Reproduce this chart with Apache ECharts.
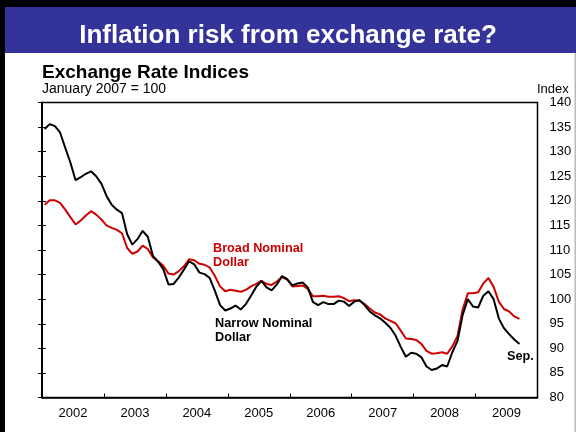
<!DOCTYPE html>
<html>
<head>
<meta charset="utf-8">
<script src="https://cdn.jsdelivr.net/npm/echarts@6/dist/echarts.min.js"></script>
<style>
  html, body { margin: 0; padding: 0; background: #fff; }
  #chart { width: 576px; height: 432px; }
</style>
</head>
<body>
<div id="chart"></div>
<script>
// monthly index values, Jan 2002 .. Sep 2009 (January 2007 = 100)
const years = ['2002', '2003', '2004', '2005', '2006', '2007', '2008', '2009']
const broadNominal = [
  119.2, 120.1, 120.1, 119.6, 118.2, 116.7, 115.2, 116.0, 117.0, 117.9, 117.2, 116.2,
  115.0, 114.5, 114.1, 113.4, 110.4, 109.2, 109.7, 110.9, 110.2, 108.5, 107.7, 106.8,
  105.2, 105.0, 105.7, 106.7, 108.1, 107.9, 107.2, 107.0, 106.4, 104.7, 102.6, 101.6,
  101.9, 101.7, 101.5, 101.9, 102.6, 103.1, 103.7, 103.1, 102.9, 103.6, 104.5, 104.0,
  102.6, 102.7, 102.8, 102.1, 100.6, 100.6, 100.7, 100.5, 100.5, 100.6, 100.2, 99.6,
  99.8, 99.7, 99.0, 98.1, 97.3, 96.9, 96.1, 95.6, 95.1, 93.6, 92.0, 91.9,
  91.7, 90.9, 89.5, 88.9, 89.0, 89.2, 88.9, 90.4, 92.5, 97.9, 101.2, 101.2,
  101.4, 103.2, 104.3, 102.5, 99.5, 98.0, 97.5, 96.5, 96.0
]
const narrowNominal = [
  134.6, 135.6, 135.2, 133.9, 130.8, 127.8, 124.2, 124.8, 125.5, 126.0, 125.0, 123.5,
  121.0, 119.2, 118.2, 117.5, 113.2, 111.1, 112.2, 113.9, 112.7, 108.8, 107.6, 106.1,
  103.0, 103.1, 104.4, 106.0, 107.7, 107.1, 105.4, 105.1, 104.3, 101.7, 98.8, 97.7,
  98.1, 98.7, 97.9, 99.0, 100.7, 102.5, 103.7, 102.4, 101.8, 103.0, 104.7, 104.1,
  102.8, 103.2, 103.4, 102.4, 99.4, 98.8, 99.4, 99.0, 99.0, 99.7, 99.5, 98.6,
  99.5, 99.8, 98.8, 97.5, 96.7, 96.1, 95.2, 94.2, 92.6, 90.3, 88.3, 89.1,
  88.9, 88.2, 86.3, 85.6, 85.9, 86.6, 86.3, 89.2, 91.5, 96.8, 100.0, 98.5,
  98.3, 100.7, 101.6, 100.0, 96.1, 94.1, 92.9, 91.8, 90.9
]
const yMin = 80
const yMax = 140
const yStep = 5

const red = '#cc0000'
const font = '"Liberation Sans", Arial, sans-serif'

// place each monthly value at the middle of its month
const toPoints = vals => vals.map((v, i) => [i + 0.5, v])

const chart = echarts.init(document.getElementById('chart'))

const yAxisBase = {
  type: 'value',
  min: yMin,
  max: yMax,
  interval: yStep,
  axisLine: {show: true, lineStyle: {color: '#000', width: 1.5}},
  axisTick: {show: true, inside: true, length: 4, lineStyle: {color: '#000'}},
  splitLine: {show: false}
}

chart.setOption({
  animation: false,
  backgroundColor: '#fff',
  textStyle: {fontFamily: font},
  grid: {
    left: 42, right: 38.5, top: 102.5, bottom: 34.5,
    show: true, borderColor: '#000', borderWidth: 1.5
  },
  xAxis: [
    {
      type: 'value', min: 0, max: 96, interval: 12, position: 'bottom',
      axisLine: {show: true, onZero: false, lineStyle: {color: '#000', width: 1.5}},
      axisTick: {show: true, inside: true, length: 4, lineStyle: {color: '#000'}},
      axisLabel: {show: false},
      splitLine: {show: false}
    },
    {
      type: 'value', min: 0, max: 96, interval: 6, position: 'bottom',
      axisLine: {show: false}, axisTick: {show: false}, splitLine: {show: false},
      axisLabel: {
        color: '#000', fontSize: 13, margin: 9, fontFamily: font,
        formatter: v => (v % 12 === 6 ? years[(v - 6) / 12] : '')
      }
    }
  ],
  yAxis: [
    Object.assign({}, yAxisBase, {
      position: 'right',
      axisLabel: {color: '#000', fontSize: 13, margin: 12, fontFamily: font}
    }),
    Object.assign({}, yAxisBase, {
      position: 'left',
      axisLabel: {show: false}
    })
  ],
  series: [
    {
      name: 'Broad Nominal Dollar', type: 'line', data: toPoints(broadNominal),
      showSymbol: false, lineStyle: {color: red, width: 2}, itemStyle: {color: red}
    },
    {
      name: 'Narrow Nominal Dollar', type: 'line', data: toPoints(narrowNominal),
      showSymbol: false, lineStyle: {color: '#000', width: 2}, itemStyle: {color: '#000'}
    }
  ],
  graphic: [
    // slide frame and title banner
    {type: 'rect', shape: {x: 0, y: 0, width: 576, height: 7}, style: {fill: '#000'}, silent: true},
    {type: 'rect', shape: {x: 0, y: 0, width: 5, height: 432}, style: {fill: '#000'}, silent: true},
    {type: 'rect', shape: {x: 5, y: 7, width: 571, height: 46}, style: {fill: '#333399'}, silent: true},
    {type: 'rect', shape: {x: 574.5, y: 53, width: 1.5, height: 379}, style: {fill: '#bbb'}, silent: true},
    {
      type: 'text', left: 'center', top: 23,
      style: {text: 'Inflation risk from exchange rate?', fill: '#fff', font: 'bold 26px ' + font}
    },
    {
      type: 'text', left: 42, top: 63,
      style: {text: 'Exchange Rate Indices', fill: '#000', font: 'bold 19px ' + font}
    },
    {
      type: 'text', left: 42, top: 82,
      style: {text: 'January 2007 = 100', fill: '#000', font: '14px ' + font}
    },
    {
      type: 'text', left: 537, top: 83,
      style: {text: 'Index', fill: '#000', font: '13px ' + font}
    },
    {
      type: 'text', left: 213, top: 241,
      style: {text: 'Broad Nominal\nDollar', fill: red, font: 'bold 12.7px ' + font, lineHeight: 14}
    },
    {
      type: 'text', left: 215, top: 316,
      style: {text: 'Narrow Nominal\nDollar', fill: '#000', font: 'bold 12.7px ' + font, lineHeight: 14}
    },
    {
      type: 'text', left: 507, top: 350,
      style: {text: 'Sep.', fill: '#000', font: 'bold 12.7px ' + font}
    }
  ]
})
</script>
</body>
</html>
